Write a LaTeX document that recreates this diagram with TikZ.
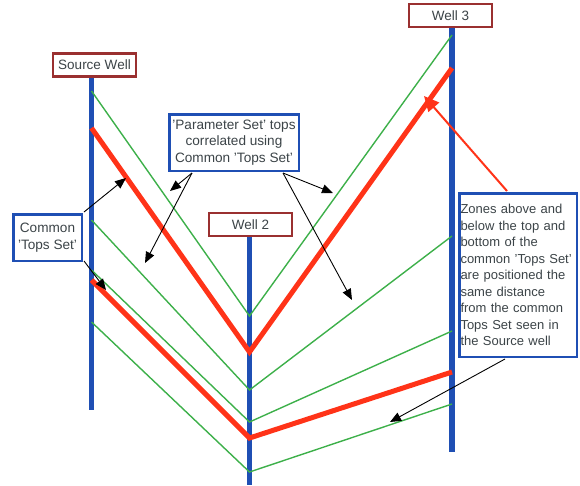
\documentclass[tikz,border=0pt]{standalone}
\usepackage{fontspec}
\setmainfont{Liberation Sans}[Ligatures=ResetAll]
\usetikzlibrary{arrows.meta}
\definecolor{wellblue}{HTML}{1F4FB4}
\definecolor{horred}{HTML}{FF3318}
\definecolor{horgreen}{HTML}{3DB04A}
\definecolor{labred}{HTML}{9A3030}
\definecolor{txt}{HTML}{3C4448}
\begin{document}
\begin{tikzpicture}[x=1pt,y=-1pt,
  well/.style={wellblue, line width=5.5pt},
  redhor/.style={horred, line width=5pt},
  greenhor/.style={horgreen, line width=1.4pt},
  wlabel/.style={draw=labred, line width=2.5pt, fill=white, text=txt,
    font=\fontsize{13.5}{16}\selectfont, inner sep=0pt,
    minimum width=83pt, minimum height=23pt},
  note/.style={draw=wellblue, line width=2.5pt, fill=white, text=txt,
    font=\fontsize{13.6}{16.8}\selectfont, inner sep=2pt, align=center},
  pointer/.style={black, line width=0.9pt, -{Triangle[length=11pt,width=9pt]}},
  redpointer/.style={horred, line width=2pt, -{Triangle[length=15pt,width=14pt]}}]

\useasboundingbox (0,0) rectangle (580,485);

% wells
\coordinate (s top) at (91.5,77);  \coordinate (s bot) at (91.5,410);
\coordinate (w2 top) at (249.5,237); \coordinate (w2 bot) at (249.5,485);
\coordinate (w3 top) at (452,28);  \coordinate (w3 bot) at (452,452);
\draw[well] (s top) -- (s bot);
\draw[well] (w2 top) -- (w2 bot);
\draw[well] (w3 top) -- (w3 bot);

% horizon picks
\coordinate (s g1) at (91.5,91);   \coordinate (b g1) at (249.5,316); \coordinate (c g1) at (452,35);
\coordinate (s r1) at (91.5,128);  \coordinate (b r1) at (249.5,352); \coordinate (c r1) at (452,68);
\coordinate (s g2) at (91.5,220);  \coordinate (b g2) at (249.5,390); \coordinate (c g2) at (452,236);
\coordinate (s g3) at (91.5,270);  \coordinate (b g3) at (249.5,422); \coordinate (c g3) at (452,331);
\coordinate (s r2) at (91.5,280);  \coordinate (b r2) at (249.5,438); \coordinate (c r2) at (452,372);
\coordinate (s g4) at (91.5,322);  \coordinate (b g4) at (249.5,472); \coordinate (c g4) at (452,404);

\draw[greenhor] (s g1) -- (b g1) -- (c g1);
\draw[greenhor] (s g2) -- (b g2) -- (c g2);
\draw[greenhor] (s g3) -- (b g3) -- (c g3);
\draw[greenhor] (s g4) -- (b g4) -- (c g4);
\draw[redhor] (s r1) -- (b r1) -- (c r1);
\draw[redhor] (s r2) -- (b r2) -- (c r2);

% well labels
\node[wlabel] (srcl) at (94.5,65) {Source Well};
\node[wlabel] (w2l) at (250.5,224.5) {Well 2};
\node[wlabel] (w3l) at (450.5,15.5) {Well 3};

% notes
\node[note, minimum width=129.5pt, minimum height=56.5pt] (param) at (234,142.5)
  {'Parameter Set' tops\\correlated using\\Common 'Tops Set'};
\node[note, minimum width=68.5pt, minimum height=46.5pt] (common) at (47.5,237.5)
  {Common\\'Tops Set'};
\node[note, minimum width=117.5pt, minimum height=163.5pt, text width=115pt, align=left,
  inner xsep=1pt, font=\fontsize{13}{16.5}\selectfont] (zones) at (518,275)
  {Zones above and\\below the top and\\bottom of the\\common 'Tops Set'\\are positioned the\\same distance\\from the common\\Tops Set seen in\\the Source well};

% pointer ends
\coordinate (a1s) at (84,212);  \coordinate (a1e) at (126,178);
\coordinate (a2s) at (84,261);  \coordinate (a2e) at (106,290);
\coordinate (a3s) at (192,173); \coordinate (a3e) at (170,191);
\coordinate (a4e) at (145,263);
\coordinate (a5s) at (283,173); \coordinate (a5e) at (333,193);
\coordinate (a6e) at (352,300);
\coordinate (a7s) at (507,191); \coordinate (a7e) at (424,96);
\coordinate (a8s) at (505,359); \coordinate (a8e) at (390,422);

\draw[pointer] (a1s) -- (a1e);
\draw[pointer] (a2s) -- (a2e);
\draw[pointer] (a3s) -- (a3e);
\draw[pointer] (a3s) -- (a4e);
\draw[pointer] (a5s) -- (a5e);
\draw[pointer] (a5s) -- (a6e);
\draw[redpointer] (a7s) -- (a7e);
\draw[pointer] (a8s) -- (a8e);
\end{tikzpicture}
\end{document}
